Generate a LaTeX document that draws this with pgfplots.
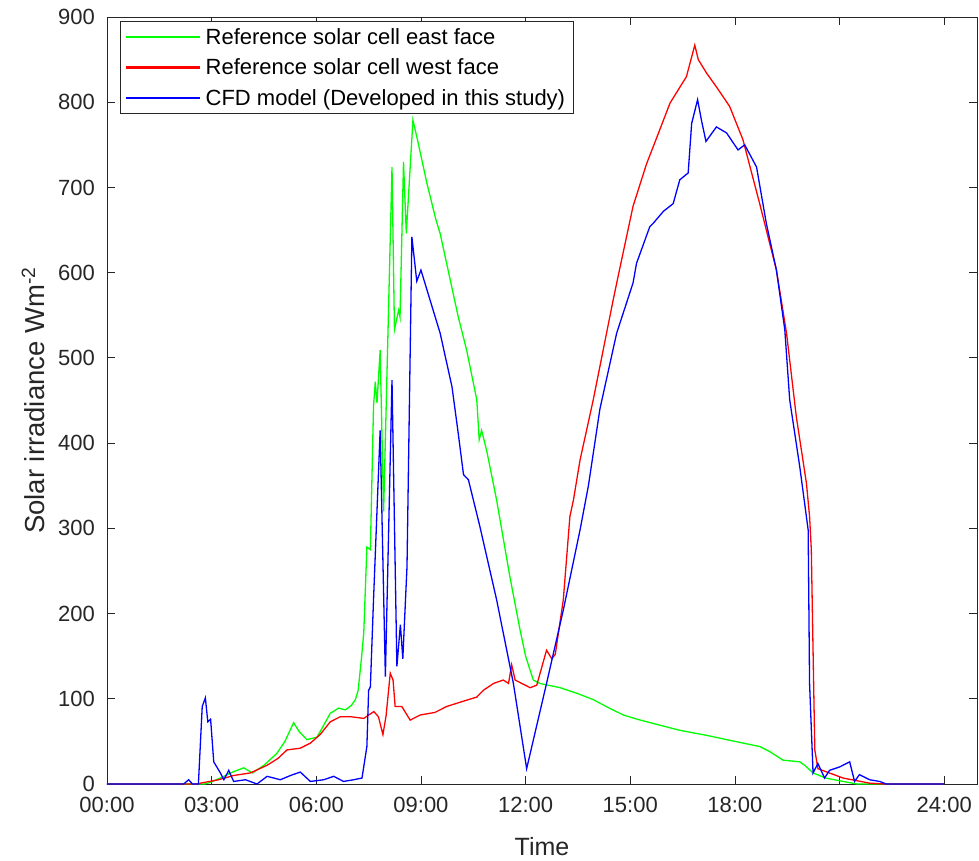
\documentclass[border=0pt]{standalone}
\usepackage{fontspec}
\setmainfont{Liberation Sans}
\usepackage{pgfplots}
\pgfplotsset{compat=1.18}
\definecolor{axgray}{RGB}{38,38,38}
\definecolor{mgreen}{rgb}{0,1,0}
\definecolor{mred}{rgb}{1,0,0}
\definecolor{mblue}{rgb}{0,0,1}
\begin{document}
\begin{tikzpicture}
\useasboundingbox (-107pt,-76pt) rectangle (872pt,784pt);
\begin{axis}[
  at={(0pt,0pt)}, anchor=south west,
  scale only axis, width=870pt, height=767pt,
  xmin=0, xmax=24.94, ymin=0, ymax=900,
  xtick={0,3,6,9,12,15,18,21,24},
  xticklabels={00:00,03:00,06:00,09:00,12:00,15:00,18:00,21:00,24:00},
  ytick={0,100,200,300,400,500,600,700,800,900},
  tick align=inside, tick pos=both, major tick length=8pt,
  axis line style={axgray, line width=0.8pt},
  every tick/.style={axgray, line width=0.8pt},
  /pgf/number format/assume math mode=true,
  ticklabel style={font=\fontsize{22}{26}\selectfont, text=axgray, inner sep=1pt},
  xticklabel style={yshift=-12pt},
  yticklabel style={xshift=-11pt},
  xlabel={Time}, ylabel={Solar irradiance Wm\textsuperscript{-2}},
  xlabel style={font=\fontsize{25}{28}\selectfont, text=axgray, at={(axis description cs:0.5,0)}, anchor=base, yshift=-71pt},
  ylabel style={font=\fontsize{27.5}{30}\selectfont, text=axgray, at={(axis description cs:0,0.5)}, anchor=center, yshift=74pt},
  legend cell align=left,
  legend style={at={(axis description cs:0.0149,0.9948)}, anchor=north west,
    draw=axgray, line width=0.8pt, font=\fontsize{22}{24}\selectfont,
    row sep=9pt, inner xsep=6pt, inner ysep=5pt},
  every axis plot/.append style={line width=1.3pt},
]
\addplot[color=mgreen, legend image code/.code={\fill[mgreen] (0pt,-0.65pt) rectangle (72pt,0.65pt); \path (76pt,0pt);}] coordinates {
(0,0) (2.8,0) (2.97,2) (3.3,8) (3.6,14) (3.92,19) (4.17,13) (4.5,22) (4.87,36) (5.1,50) (5.35,72) (5.5,62) (5.73,52) (6.02,55) (6.2,68) (6.4,83) (6.64,89) (6.83,87) (7.0,92) (7.12,99) (7.2,110) (7.3,150) (7.36,177) (7.45,278) (7.55,275) (7.64,443) (7.69,472) (7.74,447) (7.83,509) (7.93,320) (8.17,724) (8.24,533) (8.36,556) (8.40,548) (8.50,730) (8.58,646) (8.77,779) (8.9,756) (9.17,705) (9.43,662) (9.55,646) (10.07,548) (10.31,509) (10.6,451) (10.67,404) (10.74,415) (10.89,390) (11.17,333) (11.55,243) (11.84,181) (12.0,150) (12.22,122) (12.41,118) (12.99,113) (13.5,106) (13.94,99) (14.4,89) (14.8,81) (15.2,76) (15.66,71) (16.42,63) (17.2,57) (18.0,50) (18.71,44) (19.0,38) (19.38,28) (19.86,26) (20.0,22) (20.24,13) (20.6,7) (21.1,3) (21.5,0) (24,0)
};
\addlegendentry{Reference solar cell east face}
\addplot[color=mred, legend image code/.code={\fill[mred] (0pt,-0.65pt) rectangle (72pt,0.65pt); \path (76pt,0pt);}] coordinates {
(0,0) (2.6,0) (2.68,1) (3.2,5) (3.63,10) (4.11,13) (4.59,22) (4.9,30) (5.16,40) (5.54,42) (5.83,48) (6.11,58) (6.4,73) (6.69,79) (6.98,79) (7.36,77) (7.65,85) (7.78,79) (7.91,58) (8.0,80) (8.12,130) (8.2,122) (8.26,91) (8.45,91) (8.69,75) (8.98,81) (9.4,84) (9.74,91) (10.2,97) (10.6,102) (10.79,110) (11.08,118) (11.36,122) (11.51,118) (11.6,140) (11.7,122) (12.13,113) (12.32,116) (12.6,157) (12.75,147) (12.85,152) (13.08,216) (13.27,314) (13.37,333) (13.56,380) (13.94,451) (14.51,568) (14.7,605) (15.08,678) (15.47,728) (15.66,748) (16.14,799) (16.61,830) (16.85,867) (16.95,850) (17.19,834) (17.47,818) (17.85,795) (18.23,756) (18.71,681) (19.19,603) (19.48,529) (19.76,431) (20.05,353) (20.14,314) (20.19,275) (20.24,157) (20.29,40) (20.38,18) (21.1,7) (21.86,1) (22.3,0) (24,0)
};
\addlegendentry{Reference solar cell west face}
\addplot[color=mblue, legend image code/.code={\fill[mblue] (0pt,-0.65pt) rectangle (72pt,0.65pt); \path (76pt,0pt);}] coordinates {
(0,0) (2.2,0) (2.34,5) (2.45,0) (2.62,0) (2.73,91) (2.82,101) (2.89,73) (2.97,76) (3.06,26) (3.25,13) (3.35,5) (3.49,16) (3.63,3) (3.97,5) (4.3,0) (4.59,9) (4.97,5) (5.26,10) (5.54,14) (5.83,3) (6.21,5) (6.5,9) (6.78,3) (7.07,5) (7.31,7) (7.45,44) (7.5,110) (7.55,114) (7.64,216) (7.83,415) (7.98,126) (8.17,474) (8.31,138) (8.41,187) (8.48,147) (8.6,255) (8.74,642) (8.88,590) (9.0,603) (9.26,568) (9.55,529) (9.89,466) (10.07,411) (10.22,363) (10.36,357) (10.69,302) (11.17,216) (11.65,118) (12.03,18) (12.6,118) (13.08,204) (13.56,298) (13.8,350) (14.13,440) (14.61,529) (15.08,588) (15.18,611) (15.56,654) (15.66,658) (15.95,672) (16.23,681) (16.42,709) (16.66,717) (16.76,775) (16.93,803) (17.04,779) (17.17,754) (17.47,771) (17.76,764) (18.09,744) (18.28,750) (18.62,724) (18.9,658) (19.19,603) (19.43,533) (19.57,451) (19.86,372) (20.1,298) (20.14,118) (20.24,13) (20.38,24) (20.57,7) (20.71,16) (21.0,20) (21.29,26) (21.43,3) (21.57,11) (21.86,5) (22.15,3) (22.34,0) (24,0)
};
\addlegendentry{CFD model (Developed in this study)}
\end{axis}
\end{tikzpicture}
\end{document}
